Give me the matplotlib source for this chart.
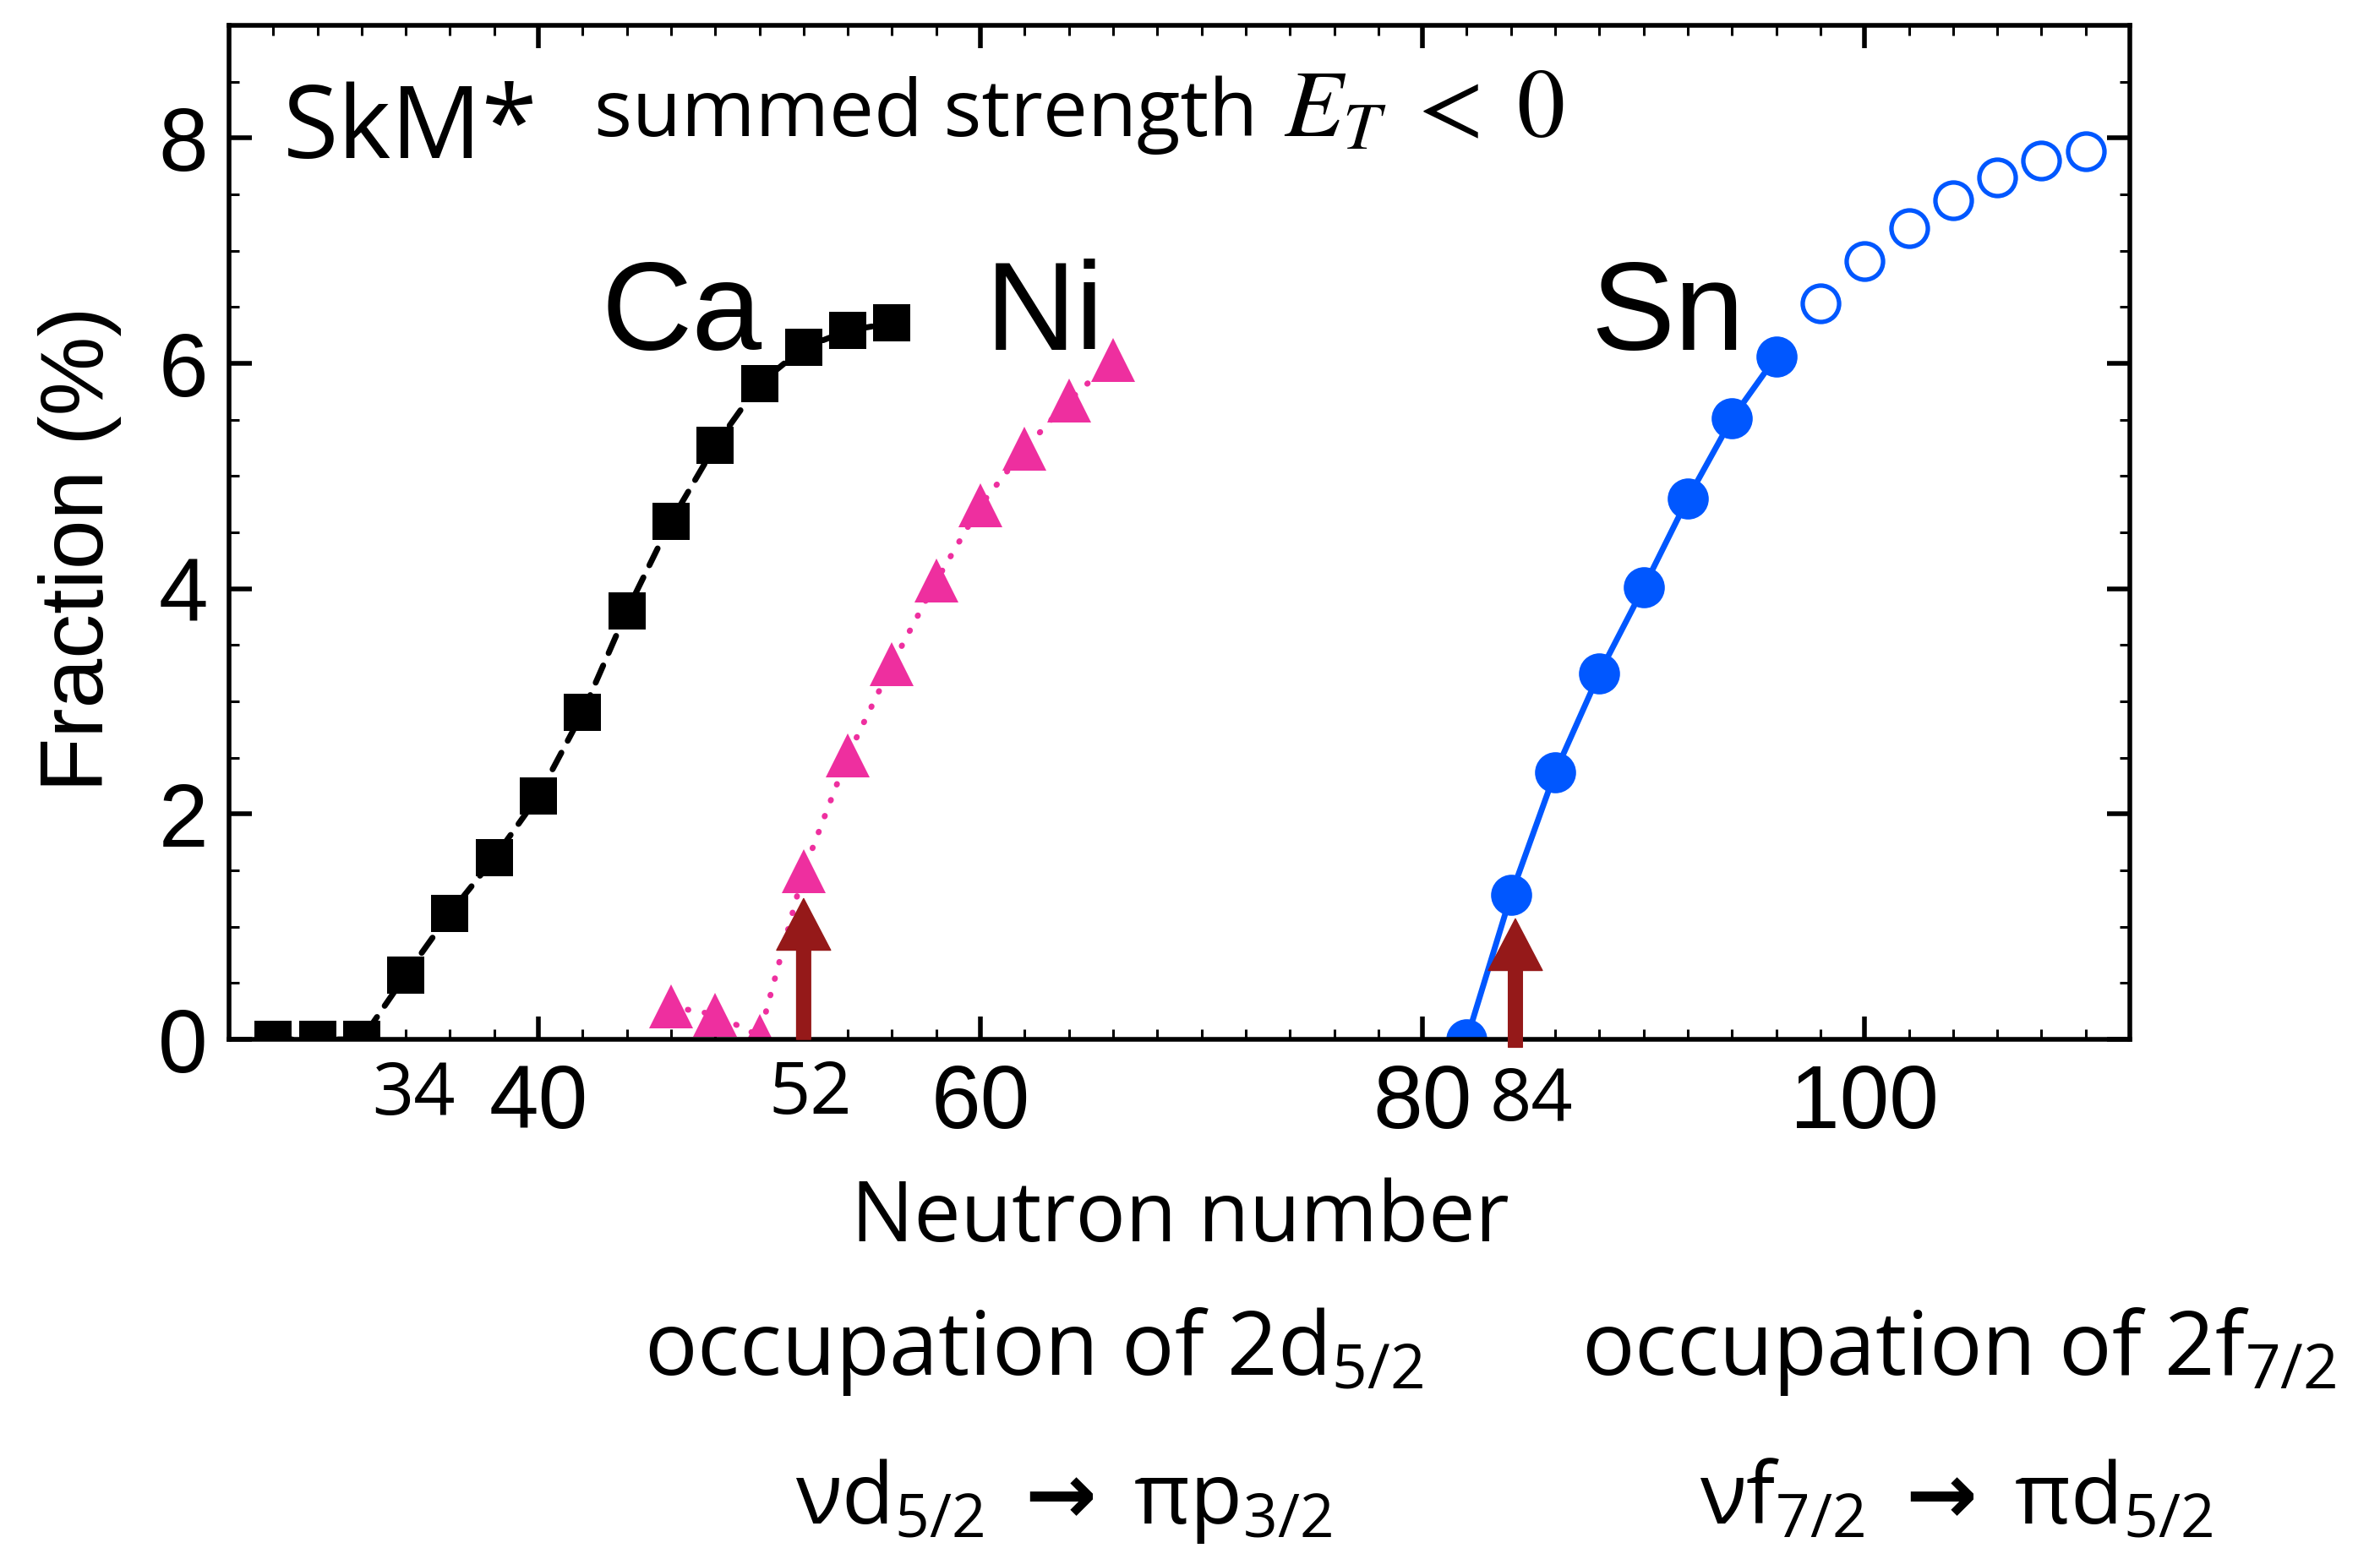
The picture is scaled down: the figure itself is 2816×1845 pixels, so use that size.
import matplotlib
matplotlib.use("Agg")
import matplotlib.pyplot as plt
from matplotlib.ticker import MultipleLocator

plt.rcParams["font.family"] = "Liberation Sans"
plt.rcParams["mathtext.fontset"] = "custom"
plt.rcParams["mathtext.rm"] = "Open Sans"
plt.rcParams["mathtext.it"] = "Open Sans:italic"
plt.rcParams["mathtext.bf"] = "DejaVu Sans:bold"

# data
CA_N = [28, 30, 32, 34, 36, 38, 40, 42, 44, 46, 48, 50, 52, 54, 56]
CA_FRAC = [0.0, 0.0, 0.0, 0.57, 1.12, 1.61, 2.16, 2.90, 3.80, 4.60, 5.27, 5.82, 6.14, 6.29, 6.36]
NI_N = [46, 48, 50, 52, 54, 56, 58, 60, 62, 64, 66]
NI_FRAC = [0.29, 0.22, 0.03, 1.49, 2.52, 3.33, 4.07, 4.74, 5.24, 5.67, 6.03]
SN_N = [82, 84, 86, 88, 90, 92, 94, 96]
SN_FRAC = [0.0, 1.28, 2.37, 3.25, 4.01, 4.80, 5.51, 6.06]
SN_OPEN_N = [98, 100, 102, 104, 106, 108, 110]
SN_OPEN_FRAC = [6.53, 6.91, 7.20, 7.45, 7.65, 7.80, 7.88]
ARROW_N = [52, 84.2]
ARROW_TIP = [1.25, 1.07]
ARROW_TAIL = [0.0, -0.07]
SHELL_N = [34, 52, 84]
SHELL_LABEL_X = [34.36, 52.29, 84.93]
SHELL_LABEL_Y = [-0.67, -0.66, -0.72]

BLACK = "#000000"
PINK = "#EE2F9F"
BLUE = "#0057FF"
DARKRED = "#951919"
HUMANIST = "Open Sans"


def main():
    fig = plt.figure(figsize=(28.16, 18.45), dpi=100)
    ax = fig.add_axes([0.0962, 0.3333, 0.7987, 0.6504])

    ax.plot(CA_N, CA_FRAC, color=BLACK, lw=5, linestyle=(0, (3.2, 2.3)), dash_capstyle="round",
            marker="s", markersize=31, markeredgewidth=0)
    ax.plot(NI_N, NI_FRAC, color=PINK, lw=5, linestyle=(0, (0.1, 2.8)), dash_capstyle="round",
            marker="^", markersize=38, markeredgewidth=0)
    ax.plot(SN_N, SN_FRAC, color=BLUE, lw=5, marker="o", markersize=35, markeredgewidth=0)
    ax.plot(SN_OPEN_N, SN_OPEN_FRAC, color=BLUE, lw=0, marker="o", markersize=31,
            markerfacecolor="none", markeredgewidth=3.8)

    for n, tip, tail in zip(ARROW_N, ARROW_TIP, ARROW_TAIL):
        ax.annotate("", xy=(n, tip), xytext=(n, tail),
                    arrowprops=dict(arrowstyle="simple,head_length=4.4,head_width=4.6,tail_width=1.2",
                                    mutation_scale=10, color=DARKRED, shrinkA=0, shrinkB=0),
                    zorder=4)

    ax.set_xlim(26, 112)
    ax.set_ylim(0, 9)
    ax.set_xticks([40, 60, 80, 100])
    ax.set_yticks([0, 2, 4, 6, 8])
    ax.xaxis.set_minor_locator(MultipleLocator(2))
    ax.yaxis.set_minor_locator(MultipleLocator(0.5))
    ax.tick_params(which="both", direction="in", top=True, right=True)
    ax.tick_params(which="major", length=19.5, width=4, labelsize=76)
    ax.tick_params(which="minor", length=8.6, width=2.2)
    ax.tick_params(axis="x", which="major", pad=20)
    ax.tick_params(axis="y", which="major", pad=18)
    for spine in ax.spines.values():
        spine.set_linewidth(4)

    for n, lx, ly in zip(SHELL_N, SHELL_LABEL_X, SHELL_LABEL_Y):
        ax.text(lx, ly, str(n), fontsize=62, family=HUMANIST, ha="center", va="baseline", clip_on=False)

    ax.text(28.43, 7.82, "SkM*", fontsize=86, family=HUMANIST, va="baseline")
    ax.text(42.54, 8.02, "summed strength", fontsize=68, family=HUMANIST, va="baseline")
    ax.text(73.73, 8.02, r"$E_T \;<\; 0$", fontsize=82, math_fontfamily="stix", va="baseline")

    ax.text(42.84, 6.12, "Ca", fontsize=107, va="baseline")
    ax.text(60.2, 6.12, "Ni", fontsize=107, va="baseline")
    ax.text(87.6, 6.12, "Sn", fontsize=107, va="baseline")

    fig.text(95 / 2816, 0.6477, "Fraction (%)", fontsize=76, rotation=90, ha="center", va="center")
    fig.text(1396 / 2816, 0.2038, "Neutron number", fontsize=71, family=HUMANIST, ha="center", va="baseline")

    fig.text(1223 / 2816, 0.118, r"occupation of 2d$_{5/2}$", fontsize=75, family=HUMANIST,
             ha="center", va="baseline")
    fig.text(2318 / 2816, 0.118, r"occupation of 2f$_{7/2}$", fontsize=75, family=HUMANIST,
             ha="center", va="baseline")
    fig.text(1258 / 2816, 0.0228, r"νd$_{5/2}$ $\mathbf{\rightarrow}$ πp$_{3/2}$", fontsize=73,
             family=HUMANIST, ha="center", va="baseline")
    fig.text(2315 / 2816, 0.0228, r"νf$_{7/2}$ $\mathbf{\rightarrow}$ πd$_{5/2}$", fontsize=73,
             family=HUMANIST, ha="center", va="baseline")

    fig.savefig("out.png", dpi=100)


if __name__ == "__main__":
    main()
